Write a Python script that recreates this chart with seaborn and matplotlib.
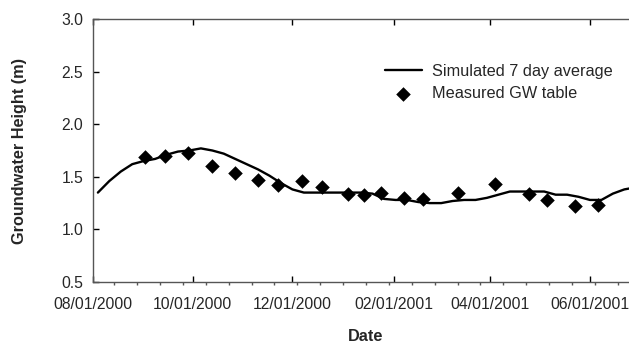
import matplotlib
matplotlib.use("Agg")
import matplotlib.pyplot as plt
import matplotlib.dates as mdates
from matplotlib.ticker import FormatStrFormatter, MultipleLocator
import pandas as pd
import seaborn as sns

sim_dates = ["2000-08-04", "2000-08-11", "2000-08-18", "2000-08-25",
             "2000-09-01", "2000-09-08", "2000-09-15", "2000-09-22", "2000-09-29",
             "2000-10-06", "2000-10-13", "2000-10-20", "2000-10-27",
             "2000-11-03", "2000-11-10", "2000-11-17", "2000-11-24",
             "2000-12-01", "2000-12-08", "2000-12-15", "2000-12-22", "2000-12-29",
             "2001-01-05", "2001-01-12", "2001-01-19", "2001-01-26",
             "2001-02-02", "2001-02-09", "2001-02-16", "2001-02-23",
             "2001-03-02", "2001-03-09", "2001-03-16", "2001-03-23", "2001-03-30",
             "2001-04-06", "2001-04-13", "2001-04-20", "2001-04-27",
             "2001-05-04", "2001-05-11", "2001-05-18", "2001-05-25",
             "2001-06-01", "2001-06-08", "2001-06-15", "2001-06-22", "2001-06-29"]
sim_values = [1.35, 1.46, 1.55, 1.62, 1.65, 1.67, 1.71, 1.74, 1.75, 1.77,
              1.75, 1.72, 1.67, 1.62, 1.57, 1.51, 1.44, 1.38, 1.35, 1.35,
              1.35, 1.35, 1.35, 1.35, 1.34, 1.29, 1.28, 1.28, 1.26, 1.25,
              1.25, 1.27, 1.28, 1.28, 1.30, 1.33, 1.36, 1.36, 1.36, 1.36,
              1.33, 1.33, 1.31, 1.28, 1.28, 1.34, 1.38, 1.40]

meas_dates = ["2000-09-02", "2000-09-14", "2000-09-28", "2000-10-13", "2000-10-27",
              "2000-11-10", "2000-11-22", "2000-12-07", "2000-12-19", "2001-01-04",
              "2001-01-14", "2001-01-24", "2001-02-07", "2001-02-19", "2001-03-12",
              "2001-04-04", "2001-04-25", "2001-05-06", "2001-05-23", "2001-06-06"]
meas_values = [1.69, 1.70, 1.73, 1.60, 1.54, 1.47, 1.42, 1.46, 1.40, 1.34,
               1.33, 1.35, 1.30, 1.29, 1.35, 1.43, 1.34, 1.28, 1.22, 1.23]

sim_label = "Simulated 7 day average"
meas_label = "Measured GW table"
x_label = "Date"
y_label = "Groundwater Height (m)"

sns.set_style("white")
plt.rcParams["font.family"] = ["Liberation Sans", "DejaVu Sans"]

sim_df = pd.DataFrame({"date": pd.to_datetime(sim_dates), "value": sim_values})
meas_df = pd.DataFrame({"date": pd.to_datetime(meas_dates), "value": meas_values})

W, H = 629, 343
fig = plt.figure(figsize=(W / 100, H / 100), dpi=100)
left, right, bottom, top = 93, 639, 282, 19
ax = fig.add_axes([left / W, 1 - bottom / H, (right - left) / W, (bottom - top) / H])

sns.lineplot(data=sim_df, x="date", y="value", ax=ax, color="black",
             linewidth=1.7, label=sim_label)
sns.scatterplot(data=meas_df, x="date", y="value", ax=ax, color="black",
                marker="D", s=55, linewidth=0, label=meas_label, zorder=3)

ax.set_xlim(pd.Timestamp("2000-08-01"), pd.Timestamp("2001-07-01"))
ax.set_ylim(0.5, 3.0)
ax.yaxis.set_major_locator(MultipleLocator(0.5))
ax.yaxis.set_major_formatter(FormatStrFormatter("%.1f"))
ax.xaxis.set_major_locator(mdates.MonthLocator(bymonth=[2, 4, 6, 8, 10, 12]))
ax.xaxis.set_major_formatter(mdates.DateFormatter("%m/%d/%Y"))
ax.xaxis.set_minor_locator(mdates.WeekdayLocator(byweekday=mdates.MO, interval=2))

fs = 11.7
tfs = 11.3
ax.tick_params(axis="both", which="major", direction="in", length=4.5, width=1,
               color="black", labelsize=tfs)
ax.tick_params(axis="x", which="major", top=True, bottom=True, pad=11)
ax.tick_params(axis="y", which="major", left=True, right=False, pad=7)
ax.tick_params(axis="x", which="minor", direction="out", length=2, width=1,
               color="#555555", bottom=True)

for side in ["left", "bottom", "top"]:
    ax.spines[side].set_color("#555555")
    ax.spines[side].set_linewidth(1.0)
ax.spines["right"].set_visible(False)

ax.set_xlabel(x_label, fontsize=fs, fontweight="bold", labelpad=12)
ax.set_ylabel(y_label, fontsize=fs, fontweight="bold", labelpad=25)

ax.legend(loc="upper left", bbox_to_anchor=(385 / W, 1 - 64 / H),
          bbox_transform=fig.transFigure, frameon=False, fontsize=fs,
          handlelength=2.25, handletextpad=0.65, borderpad=0, borderaxespad=0,
          labelspacing=0.45)

fig.savefig("out.png", dpi=100)
